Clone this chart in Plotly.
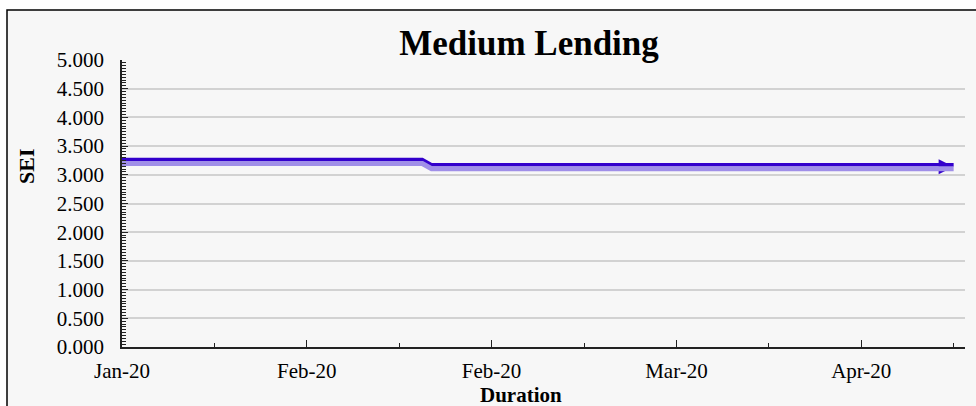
import plotly.graph_objects as go

# Data
dates = ["2020-01-15", "2020-02-16 12:00", "2020-02-17 12:00", "2020-04-14"]
sei = [3.23, 3.23, 3.14, 3.14]

x_start = "2020-01-15"
x_end = "2020-04-15 05:30"
day_ms = 86400000

font_name = "Liberation Serif"
dark_line = "#3300cc"
light_line = "#a08fe8"

W, H = 976, 406
L, R, T, B = 122, 11, 60, 59

fig = go.Figure()

# lighter lower band of the line
fig.add_trace(go.Scatter(x=dates, y=sei, mode="lines", yaxis="y3",
	line=dict(color=light_line, width=5), showlegend=False, hoverinfo="skip"))

# dark upper part of the line
fig.add_trace(go.Scatter(x=dates, y=sei, mode="lines", yaxis="y2",
	line=dict(color=dark_line, width=3.5), showlegend=False))

# arrow head at the end
fig.add_trace(go.Scatter(x=dates[-1:], y=sei[-1:], mode="markers",
	marker=dict(symbol="arrow-right", size=15, color=dark_line),
	showlegend=False, hoverinfo="skip"))

# border and background of the chart box (paper coords outside the plot area)
pw = W - L - R
ph = H - T - B
x0 = (7 - L) / pw
y0 = (H - B - 10) / ph
fig.add_shape(type="rect", xref="paper", yref="paper",
	x0=x0, x1=1.2, y0=-0.5, y1=y0,
	fillcolor="#f7f7f7", line=dict(color="black", width=1.5), layer="below")

fig.update_layout(
	width=W, height=H,
	margin=dict(l=L, r=R, t=T, b=B),
	paper_bgcolor="white",
	plot_bgcolor="#f7f7f7",
	font=dict(family=font_name, color="black", size=21),
	title=dict(text="<b>Medium Lending</b>", x=529 / W, xanchor="center",
		y=1 - 43 / H, yanchor="middle", yref="container",
		font=dict(size=35, family=font_name, color="black")),
	xaxis=dict(
		type="date", range=[x_start, x_end],
		tick0=x_start, dtick=20 * day_ms, tickformat="%b-%y",
		ticks="inside", ticklen=7, tickcolor="#222", tickwidth=1,
		minor=dict(tick0=x_start, dtick=10 * day_ms, ticks="inside", ticklen=4, tickcolor="#222"),
		showline=True, linecolor="#222", linewidth=1.5,
		showgrid=False, zeroline=False,
		ticklabelstandoff=4,
		tickfont=dict(size=21)),
	yaxis=dict(
		range=[0, 5], dtick=0.5, tickformat=".3f",
		ticks="inside", ticklen=6, tickcolor="#222", tickwidth=1,
		minor=dict(dtick=0.05, ticks="inside", ticklen=4, tickcolor="#222", showgrid=False),
		showline=True, linecolor="#222", linewidth=1.5,
		showgrid=True, gridcolor="#d2d2d2", gridwidth=2,
		zeroline=False, ticklabelstandoff=12,
		tickfont=dict(size=21)),
	yaxis2=dict(overlaying="y", range=[-0.035, 4.965], visible=False),
	yaxis3=dict(overlaying="y", range=[0.035, 5.035], visible=False),
)

fig.add_annotation(text="<b>Duration</b>", xref="paper", yref="paper",
	x=(521 - L) / pw, y=(H - B - 395) / ph, xanchor="center", yanchor="middle",
	showarrow=False, font=dict(size=21, family=font_name, color="black"))

fig.add_annotation(text="<b>SEI</b>", xref="paper", yref="paper",
	x=(26 - L) / pw, y=(H - B - 167) / ph, xanchor="center", yanchor="middle",
	textangle=-90, showarrow=False, font=dict(size=22, family=font_name, color="black"))

fig.write_html("out.html", config={"displayModeBar": False},
	post_script="document.body.style.margin='0';")
